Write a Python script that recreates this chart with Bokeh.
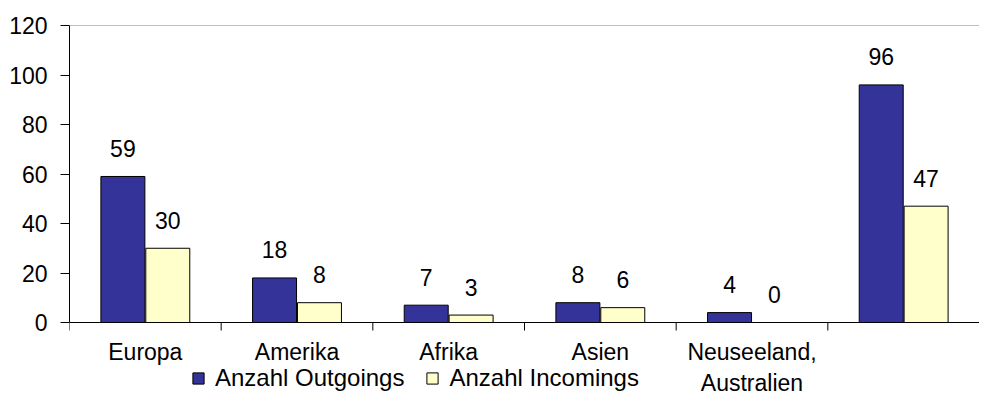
from bokeh.plotting import figure
from bokeh.models import ColumnDataSource, Range1d, FixedTicker, Span, Legend, LegendItem
from bokeh.core.properties import value
from bokeh.embed import file_html
from bokeh.resources import INLINE

categories = ["Europa", "Amerika", "Afrika", "Asien", "Neuseeland,\nAustralien", ""]
outgoings = [59, 18, 7, 8, 4, 96]
incomings = [30, 8, 3, 6, 0, 47]
y_ticks = [0, 20, 40, 60, 80, 100, 120]

FONT = "Liberation Sans"
C_OUT = "#333399"
C_IN = "#FFFFCC"

W, H = 979, 396
TOP, LEFT = 25, 69
ZERO_PX = 322          # screen row of the value 0
YMAX = 120
n = len(categories)

# frame covers the lower label area too; value axis spans 0..120
px_per_unit = (ZERO_PX - TOP) / YMAX
ymin = -(H - ZERO_PX) / px_per_unit
tick_len = 8 / px_per_unit

centers = [i + 0.5 for i in range(n)]
off = 0.148
bw = 0.29

src_out = ColumnDataSource(dict(x=[c - off for c in centers], top=outgoings,
                                lbl=[str(v) for v in outgoings]))
src_in = ColumnDataSource(dict(x=[c + off for c in centers], top=incomings,
                               lbl=[str(v) for v in incomings]))
src_cat = ColumnDataSource(dict(x=centers, y=[0] * n, lbl=categories))
src_sep = ColumnDataSource(dict(x=list(range(n + 1)), y0=[0] * (n + 1),
                                y1=[-tick_len] * (n + 1)))

p = figure(width=W, height=H, output_backend="svg", toolbar_location=None,
           x_range=Range1d(0, n), y_range=Range1d(ymin, YMAX),
           min_border_left=LEFT, min_border_right=0, min_border_top=TOP, min_border_bottom=0)
p.outline_line_color = None
p.xgrid.visible = False
p.ygrid.visible = False
p.xaxis.visible = False

r_out = p.vbar(x="x", top="top", bottom=0, width=bw, source=src_out, fill_color=C_OUT,
               line_color="black", line_width=1)
r_in = p.vbar(x="x", top="top", bottom=0, width=bw, source=src_in, fill_color=C_IN,
              line_color="black", line_width=1)

for src in (src_out, src_in):
    p.text(x="x", y="top", text="lbl", source=src, text_align="center",
           text_baseline="alphabetic", y_offset=-28, text_font=value(FONT),
           text_font_size="23px", text_color="black")

# top border and category axis
p.add_layout(Span(location=YMAX, dimension="width", line_color="#808080", line_width=1))
p.add_layout(Span(location=0, dimension="width", line_color="black", line_width=1))
p.segment(x0="x", x1="x", y0="y0", y1="y1", source=src_sep, line_color="black", line_width=1)

p.text(x="x", y="y", text="lbl", source=src_cat, text_align="center",
       text_baseline="top", y_offset=16, text_font=value(FONT),
       text_font_size="23px", text_color="black", text_line_height=1.2)

# y axis
ya = p.yaxis[0]
ya.ticker = FixedTicker(ticks=y_ticks)
ya.bounds = (0, YMAX)
ya.major_tick_out = 9
ya.major_tick_in = 0
ya.minor_tick_line_color = None
ya.axis_line_color = "black"
ya.major_label_text_font = FONT
ya.major_label_text_font_size = "23px"
ya.major_label_text_color = "black"
ya.major_label_standoff = 13

legend = Legend(items=[LegendItem(label="Anzahl Outgoings", renderers=[r_out]),
                       LegendItem(label="Anzahl Incomings", renderers=[r_in])],
                orientation="horizontal", location=(122, 4),
                glyph_width=14, glyph_height=14, label_standoff=10, spacing=21,
                padding=0, margin=0, border_line_color=None, background_fill_alpha=0,
                label_text_font=FONT, label_text_font_size="24px", label_text_color="black")
p.add_layout(legend, "center")

open("out.html", "w").write(file_html(p, INLINE))
